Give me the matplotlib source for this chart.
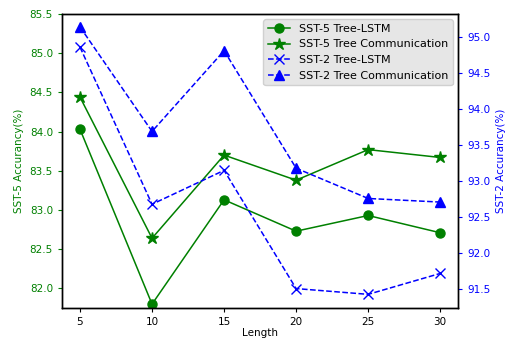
import numpy as np
import matplotlib
matplotlib.use("Agg")
import matplotlib.pyplot as plt

lengths = [5, 10, 15, 20, 25, 30]
sst5_lstm = [84.03, 81.80, 83.13, 82.73, 82.93, 82.71]
sst5_comm = [84.44, 82.64, 83.70, 83.38, 83.77, 83.67]
sst2_lstm = [94.86, 92.68, 93.15, 91.51, 91.43, 91.72]
sst2_comm = [95.14, 93.69, 94.81, 93.18, 92.76, 92.71]

plt.rcParams['font.size'] = 7.5
plt.rcParams['xtick.major.size'] = 3
plt.rcParams['ytick.major.size'] = 3
plt.rcParams['axes.linewidth'] = 1.0

fig, ax1 = plt.subplots(figsize=(5.08, 3.4), dpi=100)
fig.subplots_adjust(left=0.122, right=0.902, top=0.959, bottom=0.094)
ax2 = ax1.twinx()

lw = 1.1
l1, = ax1.plot(lengths, sst5_lstm, 'g-', marker='o', markersize=6.5, lw=lw, label='SST-5 Tree-LSTM')
l2, = ax1.plot(lengths, sst5_comm, 'g-', marker='*', markersize=9, lw=lw, label='SST-5 Tree Communication')
l3, = ax2.plot(lengths, sst2_lstm, 'b--', marker='x', markersize=7, lw=lw, label='SST-2 Tree-LSTM')
l4, = ax2.plot(lengths, sst2_comm, 'b--', marker='^', markersize=7, lw=lw, label='SST-2 Tree Communication')

ax1.set_xticks(lengths)
ax1.set_ylim(81.75, 85.5)
ax2.set_ylim(91.24, 95.32)
ax1.set_yticks(np.arange(82.0, 85.51, 0.5))
ax2.set_yticks(np.arange(91.5, 95.01, 0.5))

ax1.set_xlabel('Length', labelpad=1)
ax1.set_ylabel('SST-5 Accurancy(%)', color='g')
ax2.set_ylabel('SST-2 Accurancy(%)', color='b')
ax1.tick_params(axis='y', colors='g')
ax2.tick_params(axis='y', colors='b')

leg = ax1.legend(handles=[l1, l2, l3, l4], loc='upper right', facecolor='#e6e6e6',
                 framealpha=1, edgecolor='#d0d0d0', fontsize=8)

plt.savefig('out.png')
